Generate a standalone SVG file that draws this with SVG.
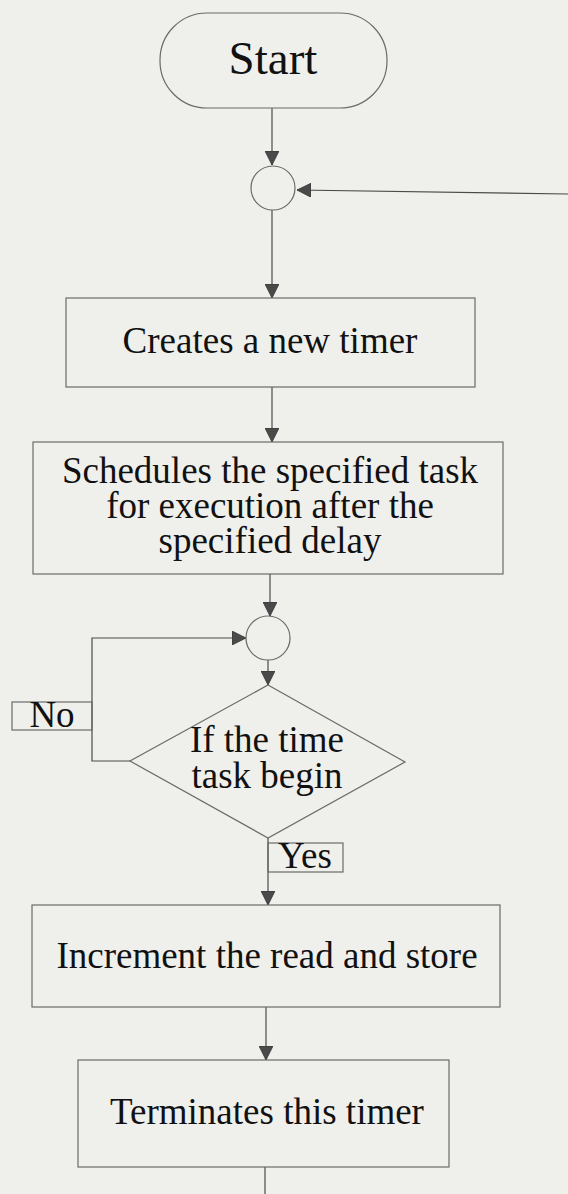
<svg xmlns="http://www.w3.org/2000/svg" width="568" height="1194" viewBox="0 0 568 1194">
  <style>
    .shape { fill: none; stroke: #6a6a6a; stroke-width: 1.2; }
    .line { fill: none; stroke: #4a4a4a; stroke-width: 1.2; }
    .label { font-family: "Liberation Serif", "Times New Roman", serif; fill: #111; text-anchor: middle; }
    .big { font-size: 47px; }
    .txt { font-size: 37px; }
  </style>
  <defs>
    <marker id="arrow" viewBox="0 0 14 14" refX="14" refY="7" markerWidth="14" markerHeight="14" markerUnits="userSpaceOnUse" orient="auto">
      <path d="M0,0 L14,7 L0,14 Z" fill="#4a4a4a" stroke="#333" stroke-width="0.8"/>
    </marker>
  </defs>

  <rect x="0" y="0" width="568" height="1194" fill="#efefec"/>

  <!-- connectors -->
  <g id="connectors">
    <path class="line" d="M272,108 V165" marker-end="url(#arrow)"/>
    <path class="line" d="M568,194 L297,190" stroke-width="1.6" marker-end="url(#arrow)"/>
    <path class="line" d="M272,210 V298" marker-end="url(#arrow)"/>
    <path class="line" d="M272,387 V442" marker-end="url(#arrow)"/>
    <path class="line" d="M270,574 V616" marker-end="url(#arrow)"/>
    <path class="line" d="M268,660 V685" marker-end="url(#arrow)"/>
    <path class="line" d="M130,761 H92 V638 H246" marker-end="url(#arrow)"/>
    <path class="line" d="M268,838 V905" marker-end="url(#arrow)"/>
    <path class="line" d="M266,1007 V1060" marker-end="url(#arrow)"/>
    <path class="line" d="M265,1167 V1194"/>
  </g>

  <!-- start terminator -->
  <g id="start">
    <rect class="shape" x="160" y="13" width="227" height="95" rx="47" ry="47"/>
    <text class="label big" x="273" y="74">Start</text>
  </g>

  <!-- merge point at top -->
  <g id="join1">
    <circle class="shape" cx="273" cy="188" r="22" fill="#efefec"/>
  </g>

  <g id="create">
    <rect class="shape" x="66" y="298" width="409" height="89"/>
    <text class="label txt" x="270" y="353">Creates a new timer</text>
  </g>

  <g id="schedule">
    <rect class="shape" x="33" y="442" width="470" height="132"/>
    <text class="label txt" x="270" y="483">Schedules the specified task</text>
    <text class="label txt" x="270" y="518">for execution after the</text>
    <text class="label txt" x="270" y="553">specified delay</text>
  </g>

  <!-- merge point before the decision -->
  <g id="join2">
    <circle class="shape" cx="268" cy="638" r="22" fill="#efefec"/>
  </g>

  <g id="decision">
    <polygon class="shape" points="268,685 405,762 268,838 130,761"/>
    <text class="label txt" x="267" y="752">If the time</text>
    <text class="label txt" x="267" y="788">task begin</text>
  </g>

  <g id="label-no">
    <rect class="shape" x="12" y="702" width="80" height="28"/>
    <text class="label txt" x="52" y="727">No</text>
  </g>

  <g id="label-yes">
    <rect class="shape" x="268" y="843" width="75" height="29"/>
    <text class="label txt" x="305" y="868">Yes</text>
  </g>

  <g id="increment">
    <rect class="shape" x="32" y="905" width="468" height="102"/>
    <text class="label txt" x="267" y="968">Increment the read and store</text>
  </g>

  <g id="terminate">
    <rect class="shape" x="78" y="1060" width="371" height="107"/>
    <text class="label txt" x="267" y="1124">Terminates this timer</text>
  </g>
</svg>
